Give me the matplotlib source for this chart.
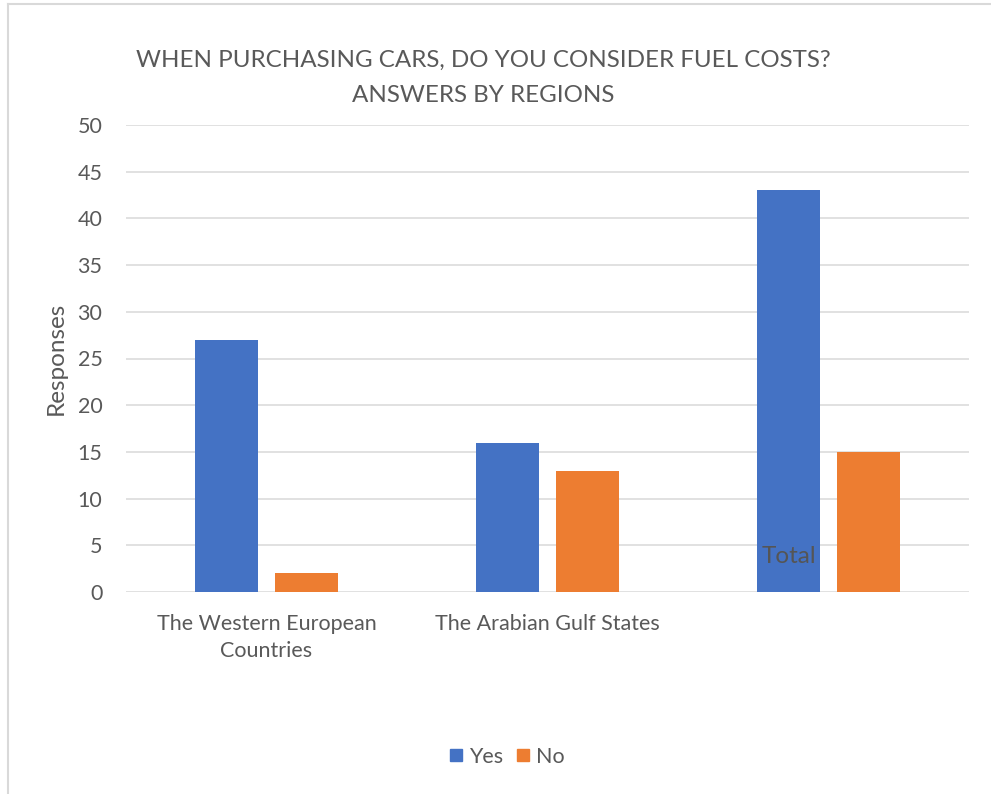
import numpy as np
import matplotlib.pyplot as plt
from matplotlib.lines import Line2D

categories = ["The Western European\nCountries", "The Arabian Gulf States", ""]
yes = [27, 16, 43]
no = [2, 13, 15]
series_names = ["Yes", "No"]
yticks = list(range(0, 51, 5))

blue = "#4472C4"
orange = "#ED7D31"
txt = "#595959"

plt.rcParams['font.family'] = ['Lato', 'DejaVu Sans']

fig = plt.figure(figsize=(9.91, 7.94), dpi=100)
ax = fig.add_axes([126/991, 1 - 592/794, 843/991, 467/794])

x = np.arange(len(categories))
w = 0.224
off = 0.142
ax.bar(x - off, yes, w, color=blue, label=series_names[0], zorder=3)
ax.bar(x + off, no, w, color=orange, label=series_names[1], zorder=3)

ax.set_xlim(-0.5, len(categories) - 0.5)
ax.set_ylim(0, 50)
ax.set_yticks(yticks)
ax.set_xticks(x)
ax.set_xticklabels(categories, fontsize=15.5, color=txt, linespacing=1.45)
ax.tick_params(axis='y', length=0, pad=17, labelsize=15.5, labelcolor=txt)
ax.tick_params(axis='x', length=0, pad=16)
ax.grid(axis='y', color='#d9d9d9', linewidth=1.1, zorder=0)
for s in ax.spines.values():
    s.set_visible(False)

ax.set_ylabel("Responses", fontsize=17.5, color=txt, labelpad=8)

# stray category label sitting on the last bar
ax.text(2 - off, 3.8, "Total", ha='center', va='center', fontsize=17.5, color='#555555', zorder=4)

fig.text(483/991, 1 - 60/794, "WHEN PURCHASING CARS, DO YOU CONSIDER FUEL COSTS?",
         ha='center', va='center', fontsize=17.4, color=txt)
fig.text(483/991, 1 - 95/794, "ANSWERS BY REGIONS",
         ha='center', va='center', fontsize=17.4, color=txt)

handles = [Line2D([], [], marker='s', linestyle='none', markersize=9, color=blue),
           Line2D([], [], marker='s', linestyle='none', markersize=9, color=orange)]
fig.legend(handles, series_names, loc='center', bbox_to_anchor=(505/991, 1 - 757/794),
           ncol=2, frameon=False, fontsize=15.5, labelcolor=txt,
           handletextpad=0.1, columnspacing=0.4, handlelength=1.0)

# chart frame edges (left and top visible)
fig.add_artist(Line2D([8/991, 8/991], [0, 1 - 4/794], color='#d9d9d9', linewidth=1.5))
fig.add_artist(Line2D([8/991, 1], [1 - 4/794, 1 - 4/794], color='#d9d9d9', linewidth=1.5))

fig.savefig("out.png", dpi=100)
